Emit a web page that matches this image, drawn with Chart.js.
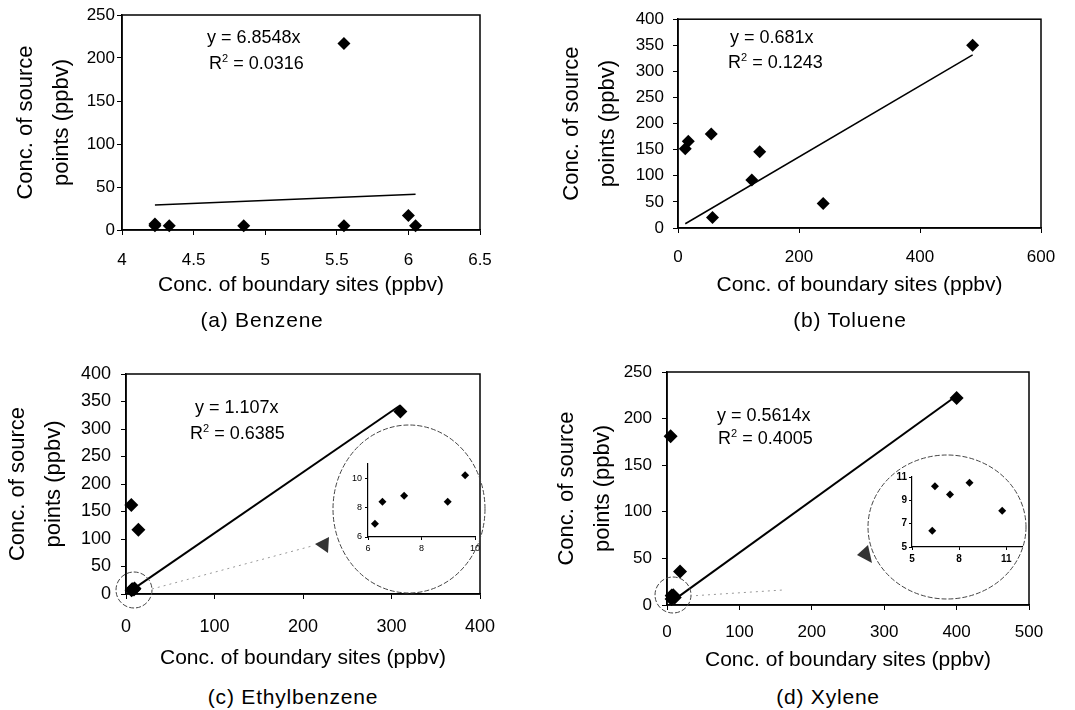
<!DOCTYPE html>
<html>
<head>
<meta charset="utf-8">
<title>Source vs boundary concentrations</title>
<script src="https://cdn.jsdelivr.net/npm/chart.js@4.4.0/dist/chart.umd.min.js"></script>
<style>
  body { margin: 0; width: 1075px; height: 710px; background: #fff; position: relative; overflow: hidden; font-family: "Liberation Sans", Arial, sans-serif; }
  .box { position: absolute; }
  .eq { position: absolute; font-size: 18px; line-height: 20px; white-space: nowrap; color: #000; }
  .eq sup { font-size: 11px; vertical-align: 7px; line-height: 0; }
  .cap { position: absolute; font-size: 21px; letter-spacing: 0.8px; line-height: 22px; white-space: nowrap; color: #000; transform: translateX(-50%); }
</style>
</head>
<body>
<script>
// (a) Benzene
const benzeneX = [4.23, 4.23, 4.33, 4.85, 5.55, 5.55, 6.0, 6.05];
const benzeneY = [7, 5, 5, 5, 217, 5, 17, 5];
const benzeneSlope = 6.8548;

// (b) Toluene
const tolueneX = [12, 17, 55, 57, 122, 135, 240, 487];
const tolueneY = [152, 166, 180, 20, 92, 146, 47, 350];
const tolueneSlope = 0.681;

// (c) Ethylbenzene (last five are the points near the origin, shown in the inset)
const ethylX = [6, 14, 310, 6.26, 6.54, 7.35, 8.98, 9.63];
const ethylY = [162, 117, 332, 6.9, 8.4, 8.8, 8.4, 10.2];
const ethylSlope = 1.107;

// (d) Xylene
const xyleneX = [5, 18, 400, 6.29, 6.46, 7.42, 8.66, 10.74];
const xyleneY = [181, 36, 222, 6.4, 10.2, 9.5, 10.5, 8.1];
const xyleneSlope = 0.5614;

// tick labels
const aXTicks = [4, 4.5, 5, 5.5, 6, 6.5];
const aYTicks = [0, 50, 100, 150, 200, 250];
const bXTicks = [0, 200, 400, 600];
const bYTicks = [0, 50, 100, 150, 200, 250, 300, 350, 400];
const cXTicks = [0, 100, 200, 300, 400];
const cYTicks = [0, 50, 100, 150, 200, 250, 300, 350, 400];
const dXTicks = [0, 100, 200, 300, 400, 500];
const dYTicks = [0, 50, 100, 150, 200, 250];
const cInsetXTicks = [6, 8, 10];
const cInsetYTicks = [6, 8, 10];
const dInsetXTicks = [5, 8, 11];
const dInsetYTicks = [5, 7, 9, 11];

const FONT = '"Liberation Sans", Arial, sans-serif';

// draws the dashed circles, dotted leader and arrow head
const decoPlugin = {
  id: 'deco',
  afterDraw(chart, args, opts) {
    const ctx = chart.ctx;
    const a = chart.chartArea;
    if (opts.frame) {
      ctx.save();
      ctx.strokeStyle = '#000';
      ctx.lineWidth = 1.5;
      ctx.strokeRect(a.left, a.top, a.right - a.left, a.bottom - a.top);
      ctx.restore();
    }
    const d = opts.shapes;
    if (!d) return;
    ctx.save();
    ctx.strokeStyle = '#444';
    ctx.lineWidth = 1;
    ctx.setLineDash([5, 2]);
    d.ellipses.forEach(e => {
      ctx.beginPath();
      ctx.ellipse(e[0], e[1], e[2], e[3], 0, 0, Math.PI * 2);
      ctx.stroke();
    });
    ctx.strokeStyle = '#999';
    ctx.setLineDash([2, 4]);
    ctx.beginPath();
    ctx.moveTo(d.leader[0], d.leader[1]);
    ctx.lineTo(d.leader[2], d.leader[3]);
    ctx.stroke();
    ctx.setLineDash([]);
    ctx.fillStyle = '#333';
    ctx.beginPath();
    ctx.moveTo(d.arrow[0], d.arrow[1]);
    ctx.lineTo(d.arrow[2], d.arrow[3]);
    ctx.lineTo(d.arrow[4], d.arrow[5]);
    ctx.closePath();
    ctx.fill();
    ctx.restore();
  }
};

function addCanvas(box) {
  const wrap = document.createElement('div');
  wrap.className = 'box';
  wrap.style.left = box[0] + 'px';
  wrap.style.top = box[1] + 'px';
  wrap.style.width = box[2] + 'px';
  wrap.style.height = box[3] + 'px';
  const cv = document.createElement('canvas');
  cv.width = box[2];
  cv.height = box[3];
  wrap.appendChild(cv);
  document.body.appendChild(wrap);
  return cv;
}

function axis(p, dir) {
  const isX = dir === 'x';
  const box = p.box, area = p.area;
  const opts = {
    type: 'linear',
    min: isX ? p.xMin : p.yMin,
    max: isX ? p.xMax : p.yMax,
    afterBuildTicks: s => { s.ticks = (isX ? p.xTicks : p.yTicks).map(v => ({ value: v })); },
    afterFit: s => {
      if (isX) s.height = box[1] + box[3] - area[3];
      else s.width = area[0] - box[0];
    },
    grid: { drawOnChartArea: false, drawTicks: true, tickLength: p.tickLen, color: '#000', lineWidth: 1 },
    border: { display: true, color: '#000', width: p.inset ? 1.2 : 1.5 },
    ticks: {
      color: '#000',
      font: { family: FONT, size: p.tickSize, weight: p.tickWeight || 'normal' },
      padding: isX ? p.xPad : p.yPad,
      maxRotation: 0,
      autoSkip: false,
      callback: v => String(v)
    }
  };
  if (!p.inset) {
    opts.title = isX
      ? { display: true, text: 'Conc. of boundary sites (ppbv)', color: '#000',
          font: { family: FONT, size: 21, lineHeight: 1.2 }, padding: { top: 0, bottom: p.xTitlePad } }
      : { display: true, text: ['Conc. of source', 'points (ppbv)'], color: '#000',
          font: { family: FONT, size: 22, lineHeight: 1.62 }, padding: { top: p.yTitlePad, bottom: 0 } };
  }
  return opts;
}

function makePanel(p) {
  const cv = addCanvas(p.box);
  const pts = p.xs.map((v, i) => ({ x: v, y: p.ys[i] }));
  const datasets = [{
    data: pts,
    pointStyle: 'rectRot',
    pointRadius: p.r,
    backgroundColor: '#000',
    borderColor: '#000',
    borderWidth: 0,
    clip: false
  }];
  if (p.slope) {
    const lo = Math.min(...p.xs), hi = Math.max(...p.xs);
    datasets.push({
      data: [{ x: lo, y: p.slope * lo }, { x: hi, y: p.slope * hi }],
      showLine: true,
      borderColor: '#000',
      borderWidth: p.lineW,
      pointRadius: 0,
      clip: false
    });
  }
  const box = p.box, area = p.area;
  new Chart(cv, {
    type: 'scatter',
    data: { datasets },
    options: {
      responsive: false,
      animation: false,
      devicePixelRatio: 1,
      layout: { padding: { top: area[1] - box[1], right: box[0] + box[2] - area[2], left: 0, bottom: 0 } },
      plugins: {
        legend: { display: false },
        tooltip: { enabled: false },
        deco: { frame: !p.inset, shapes: p.shapes || null }
      },
      scales: { x: axis(p, 'x'), y: axis(p, 'y') }
    },
    plugins: [decoPlugin]
  });
}

const panels = [
  { box: [0, 0, 540, 300], area: [122, 15, 480, 230], xMin: 4, xMax: 6.5, yMin: 0, yMax: 250,
    xTicks: aXTicks, yTicks: aYTicks, xs: benzeneX, ys: benzeneY, slope: benzeneSlope,
    r: 6.5, lineW: 1.5, tickLen: 5, tickSize: 17, xPad: 15, yPad: 2, xTitlePad: 2, yTitlePad: 8 },
  { box: [540, 0, 535, 300], area: [678, 16, 1041, 228], xMin: 0, xMax: 600, yMin: 0, yMax: 400,
    xTicks: bXTicks, yTicks: bYTicks, xs: tolueneX, ys: tolueneY, slope: tolueneSlope,
    r: 6.5, lineW: 1.5, tickLen: 5, tickSize: 17, xPad: 14, yPad: 9, xTitlePad: 2, yTitlePad: 14 },
  { box: [0, 300, 540, 380], area: [126, 374, 480, 594], xMin: 0, xMax: 400, yMin: 0, yMax: 400,
    xTicks: cXTicks, yTicks: cYTicks, xs: ethylX, ys: ethylY, slope: ethylSlope,
    r: 7, lineW: 2, tickLen: 5, tickSize: 18, xPad: 17, yPad: 10, xTitlePad: 9, yTitlePad: 0,
    shapes: { ellipses: [[134, 290, 18, 18], [409, 209, 76, 84]], leader: [152, 289, 312, 246], arrow: [315, 244, 329, 237, 328, 253] } },
  { box: [540, 300, 535, 380], area: [667, 372, 1029, 605], xMin: 0, xMax: 500, yMin: 0, yMax: 250,
    xTicks: dXTicks, yTicks: dYTicks, xs: xyleneX, ys: xyleneY, slope: xyleneSlope,
    r: 7, lineW: 2, tickLen: 5, tickSize: 17, xPad: 12, yPad: 10, xTitlePad: 7, yTitlePad: 9,
    shapes: { ellipses: [[133, 295, 18, 18], [407, 227, 79, 72]], leader: [150, 296, 243, 290], arrow: [317, 255, 328, 245, 332, 263] } },
  // insets
  { inset: true, box: [345, 455, 140, 100], area: [368, 463, 475, 537], xMin: 6, xMax: 10, yMin: 6, yMax: 11,
    xTicks: cInsetXTicks, yTicks: cInsetYTicks, xs: ethylX.slice(3), ys: ethylY.slice(3),
    r: 4, tickLen: 3, tickSize: 9, xPad: 3, yPad: 3 },
  { inset: true, box: [888, 468, 145, 100], area: [912, 477, 1022, 547], xMin: 5, xMax: 12, yMin: 5, yMax: 11,
    xTicks: dInsetXTicks, yTicks: dInsetYTicks, xs: xyleneX.slice(3), ys: xyleneY.slice(3),
    r: 4, tickLen: 3, tickSize: 10, tickWeight: 'bold', xPad: 3, yPad: 2 }
];

panels.forEach(makePanel);

// regression labels and panel captions
const equations = [
  ['y = 6.8548x', '0.0316', 207, 27, 209, 53],
  ['y = 0.681x', '0.1243', 730, 27, 728, 52],
  ['y = 1.107x', '0.6385', 195, 397, 190, 423],
  ['y = 0.5614x', '0.4005', 717, 405, 718, 428]
];
equations.forEach(e => {
  const a = document.createElement('div');
  a.className = 'eq';
  a.style.left = e[2] + 'px';
  a.style.top = e[3] + 'px';
  a.textContent = e[0];
  document.body.appendChild(a);
  const b = document.createElement('div');
  b.className = 'eq';
  b.style.left = e[4] + 'px';
  b.style.top = e[5] + 'px';
  b.innerHTML = 'R<sup>2</sup> = ' + e[1];
  document.body.appendChild(b);
});

const captions = [
  ['(a) Benzene', 262, 309],
  ['(b) Toluene', 850, 309],
  ['(c) Ethylbenzene', 293, 686],
  ['(d) Xylene', 828, 686]
];
captions.forEach(c => {
  const el = document.createElement('div');
  el.className = 'cap';
  el.style.left = c[1] + 'px';
  el.style.top = c[2] + 'px';
  el.textContent = c[0];
  document.body.appendChild(el);
});
</script>
</body>
</html>
